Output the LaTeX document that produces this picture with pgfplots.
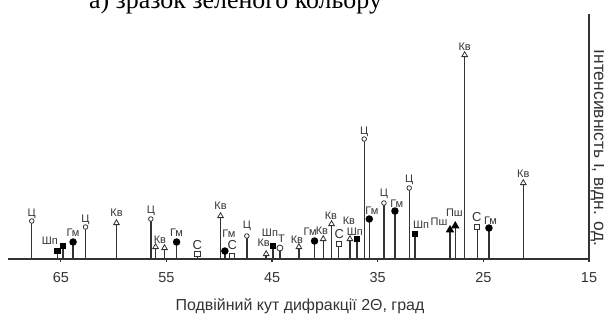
\documentclass[border=0pt]{standalone}
\usepackage{pgfplots}
\pgfplotsset{compat=1.18}
\usepackage{fontspec}
\setmainfont{Liberation Sans}
\newfontfamily\serifttl{Liberation Serif}
\definecolor{ln}{HTML}{333333}
\begin{document}
\begin{tikzpicture}[x=1bp,y=1bp,
  lab/.style={font=\fontsize{11}{11}\selectfont, anchor=base, inner sep=0pt, yshift=-4bp, text=ln},
  labC/.style={font=\fontsize{13}{13}\selectfont, anchor=base, inner sep=0pt, yshift=-4.7bp, text=ln}]
\begin{axis}[
  at={(8bp,57bp)}, anchor=south west,
  scale only axis, width=581bp, height=245bp,
  xmin=15, xmax=70, ymin=0, ymax=245,
  x dir=reverse,
  axis x line*=bottom, axis y line*=right,
  xtick={15,25,35,45,55,65}, ytick=\empty,
  tick align=outside, major tick length=3bp,
  tick style={line width=1.2bp, color=ln},
  xticklabel style={font=\fontsize{14.5}{14.5}\selectfont, text=ln, yshift=-7bp},
  /pgf/number format/assume math mode=true,
  axis line style={line width=1.3bp, color=ln},
  clip=false,
  stick/.style={ycomb, solid, line width=1.4bp, color=ln},
]
% Ц
\addplot[stick, mark=*, mark size=2.3, mark options={fill=white, draw=ln, line width=0.8bp}] coordinates {
 (67.75,38) (62.66,32) (56.48,40) (47.39,23) (36.28,120) (34.41,56) (32.02,71)};
% Кв
\addplot[stick, mark=triangle*, mark size=3.3, mark options={fill=white, draw=ln, line width=0.8bp}] coordinates {
 (59.73,36) (56.03,12) (55.18,11) (49.88,43) (45.56,5) (42.46,12) (40.16,20) (39.37,35) (37.63,20) (26.77,204) (21.22,76)};
% Гм
\addplot[stick, mark=*, mark size=3, mark options={fill=black, draw=black}] coordinates {
 (63.84,17) (54.04,17) (49.47,8) (40.98,18) (35.8,40) (33.37,48) (24.47,31)};
% Шп
\addplot[stick, mark=square*, mark size=2.6, mark options={fill=black, draw=black}] coordinates {
 (65.31,8) (64.78,13) (44.9,13) (36.97,20) (31.48,25)};
% С
\addplot[stick, mark=square*, mark size=2.6, mark options={fill=white, draw=ln, line width=0.8bp}] coordinates {
 (52.07,5) (48.78,3) (38.7,15) (25.58,32)};
% Т
\addplot[stick, mark=*, mark size=3, mark options={fill=white, draw=ln, line width=0.8bp}] coordinates {
 (44.26,11)};
% Пш
\addplot[stick, mark=triangle*, mark size=3.6, mark options={fill=black, draw=black}] coordinates {
 (28.16,29) (27.66,33)};

% labels
\node[lab] at (axis cs:67.75,47) {Ц};
\node[lab] at (axis cs:66.04,18.5) {Шп};
\node[lab] at (axis cs:63.84,27) {Гм};
\node[lab] at (axis cs:62.66,41) {Ц};
\node[lab] at (axis cs:59.73,47) {Кв};
\node[lab] at (axis cs:56.48,50) {Ц};
\node[lab] at (axis cs:55.62,20) {Кв};
\node[lab] at (axis cs:54.04,27) {Гм};
\node[labC] at (axis cs:52.07,14) {С};
\node[lab] at (axis cs:49.88,54) {Кв};
\node[lab] at (axis cs:49.09,26) {Гм};
\node[labC] at (axis cs:48.76,14) {С};
\node[lab] at (axis cs:47.39,35) {Ц};
\node[lab] at (axis cs:45.8,16.5) {Кв};
\node[lab] at (axis cs:45.2,26.5) {Шп};
\node[lab] at (axis cs:44.1,21) {Т};
\node[lab] at (axis cs:42.65,20) {Кв};
\node[lab] at (axis cs:41.4,28) {Гм};
\node[lab] at (axis cs:40.28,29) {Кв};
\node[lab] at (axis cs:39.43,44) {Кв};
\node[labC] at (axis cs:38.63,25) {С};
\node[lab] at (axis cs:37.73,39) {Кв};
\node[lab] at (axis cs:37.16,28) {Шп};
\node[lab] at (axis cs:36.28,129) {Ц};
\node[lab] at (axis cs:35.55,49) {Гм};
\node[lab] at (axis cs:34.41,67) {Ц};
\node[lab] at (axis cs:33.2,56) {Гм};
\node[lab] at (axis cs:32.02,80.5) {Ц};
\node[lab] at (axis cs:30.9,35) {Шп};
\node[lab] at (axis cs:29.2,37.5) {Пш};
\node[lab] at (axis cs:27.74,47) {Пш};
\node[lab] at (axis cs:26.77,213) {Кв};
\node[labC] at (axis cs:25.62,42) {С};
\node[lab] at (axis cs:24.33,38.5) {Гм};
\node[lab] at (axis cs:21.22,85.5) {Кв};
\end{axis}
\node[font=\fontsize{16}{16}\selectfont, anchor=base, text=ln] at (300,6) {Подвійний кут дифракції 2Θ, град};
\node[font=\fontsize{17.5}{17.5}\selectfont, anchor=base, rotate=-90, text=ln, inner sep=0pt] at (594,168) {Інтенсивність I, відн. од.};
\node[font=\serifttl\fontsize{26}{26}\selectfont, anchor=base] at (235.5,307.5) {а) зразок зеленого кольору};
\pgfresetboundingbox
\path[use as bounding box] (0,0) rectangle (604,316);
\end{tikzpicture}
\end{document}
